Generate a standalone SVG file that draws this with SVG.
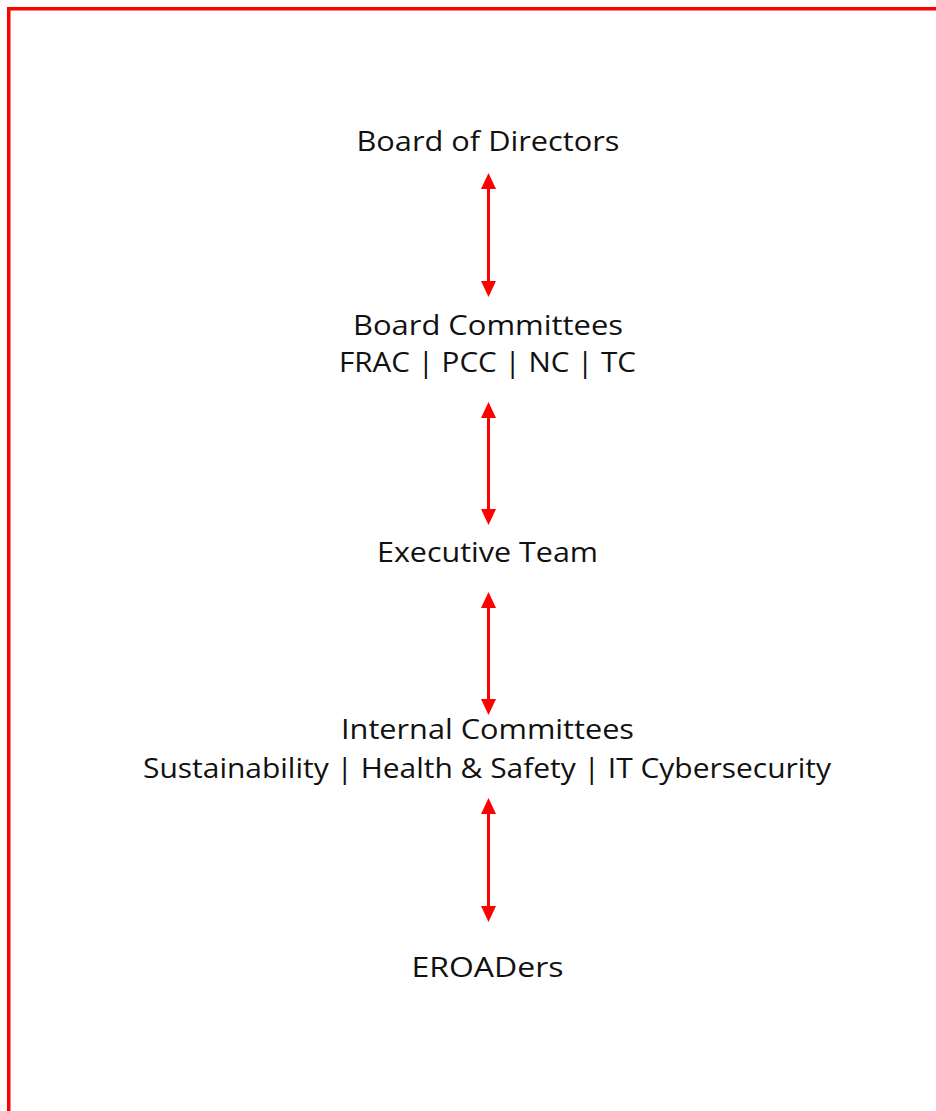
<svg xmlns="http://www.w3.org/2000/svg" width="936" height="1111" viewBox="0 0 936 1111">
  <style>
    .lbl { font-family: "Open Sans", "Lato", "Liberation Sans", sans-serif; font-weight: 400; font-size: 27px; fill: #111111; text-anchor: middle; }
    .arr { stroke: #ff0000; stroke-width: 3; fill: none; marker-start: url(#head); marker-end: url(#head); }
  </style>
  <defs>
    <marker id="head" viewBox="0 0 16 15" refX="4" refY="7.5" markerWidth="16" markerHeight="15" markerUnits="userSpaceOnUse" orient="auto-start-reverse">
      <path d="M0,0 L16,7.5 L0,15 Z" fill="#ff0000"/>
    </marker>
  </defs>
  <rect x="0" y="0" width="936" height="1111" fill="#ffffff"/>
  <rect id="frame" x="8.75" y="8.75" width="1000" height="1200" fill="none" stroke="#ff0000" stroke-width="3.5"/>

  <g id="connectors">
    <line class="arr" x1="488.5" y1="185" x2="488.5" y2="285"/>
    <line class="arr" x1="488.5" y1="414" x2="488.5" y2="513"/>
    <line class="arr" x1="488.5" y1="604" x2="488.5" y2="703"/>
    <line class="arr" x1="488.5" y1="810" x2="488.5" y2="910"/>
  </g>

  <g id="board-of-directors">
    <text class="lbl" x="488" y="151" textLength="263" lengthAdjust="spacingAndGlyphs">Board of Directors</text>
  </g>
  <g id="board-committees">
    <text class="lbl" x="488" y="335" textLength="270" lengthAdjust="spacingAndGlyphs">Board Committees</text>
    <text class="lbl" x="487.5" y="372" textLength="297" lengthAdjust="spacingAndGlyphs">FRAC | PCC | NC | TC</text>
  </g>
  <g id="executive-team">
    <text class="lbl" x="487.5" y="562" textLength="221" lengthAdjust="spacingAndGlyphs">Executive Team</text>
  </g>
  <g id="internal-committees">
    <text class="lbl" x="487.5" y="739" textLength="293" lengthAdjust="spacingAndGlyphs">Internal Committees</text>
    <text class="lbl" x="487" y="778" textLength="688" lengthAdjust="spacingAndGlyphs">Sustainability | Health &amp; Safety | IT Cybersecurity</text>
  </g>
  <g id="eroaders">
    <text class="lbl" x="487.5" y="977" textLength="152" lengthAdjust="spacingAndGlyphs">EROADers</text>
  </g>
</svg>
